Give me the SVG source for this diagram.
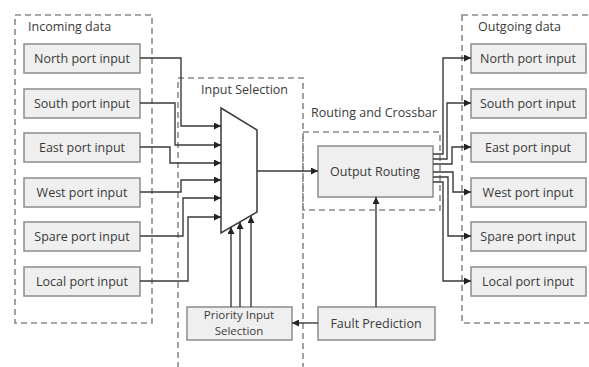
<svg xmlns="http://www.w3.org/2000/svg" width="589" height="367" viewBox="0 0 589 367">
<defs>
<style>
.grp{fill:none;stroke:#8a8a8a;stroke-width:1.6;stroke-dasharray:6 4}
.box{fill:#efefef;stroke:#8c8c8c;stroke-width:1.5}
.t{font-family:"Open Sans","Liberation Sans",sans-serif;font-size:12.5px;fill:#3a3a3a}
.s{font-size:11.5px}
.c{text-anchor:middle}
.ln{fill:none;stroke:#3a3a3a;stroke-width:1.4;marker-end:url(#ah)}
</style>
<marker id="ah" viewBox="0 0 10 10" refX="10" refY="5" markerWidth="7" markerHeight="7" markerUnits="userSpaceOnUse" orient="auto">
<path d="M0,0 L10,5 L0,10 Z" fill="#222"/>
</marker>
</defs>
<rect width="589" height="367" fill="#fff"/>
<g id="groups">
<rect class="grp" x="15" y="15" width="137" height="308"/>
<text class="t" x="28" y="31">Incoming data</text>
<rect class="grp" x="178" y="78" width="125" height="300"/>
<text class="t" x="201" y="94">Input Selection</text>
<rect class="grp" x="303" y="132" width="137" height="78"/>
<text class="t" x="311" y="117">Routing and Crossbar</text>
<rect class="grp" x="462" y="15" width="140" height="308"/>
<text class="t" x="478" y="31">Outgoing data</text>
</g>
<g id="in-north"><rect class="box" x="24" y="44" width="116" height="29"/><text class="t c" x="82" y="63">North port input</text></g>
<g id="in-south"><rect class="box" x="24" y="89" width="116" height="29"/><text class="t c" x="82" y="108">South port input</text></g>
<g id="in-east"><rect class="box" x="24" y="133" width="116" height="29"/><text class="t c" x="82" y="152">East port input</text></g>
<g id="in-west"><rect class="box" x="24" y="178" width="116" height="29"/><text class="t c" x="82" y="197">West port input</text></g>
<g id="in-spare"><rect class="box" x="24" y="222" width="116" height="29"/><text class="t c" x="82" y="241">Spare port input</text></g>
<g id="in-local"><rect class="box" x="24" y="267" width="116" height="29"/><text class="t c" x="82" y="286">Local port input</text></g>
<g id="mux"><polygon points="221,108 257,130 257,212 221,233" fill="#fff" stroke="#3a3a3a" stroke-width="1.5"/></g>
<g id="output-routing"><rect class="box" x="318" y="146" width="115" height="51"/><text class="t c" x="375" y="176">Output Routing</text></g>
<g id="priority"><rect class="box" x="187" y="307" width="105" height="33"/><text class="t s c" x="239" y="319">Priority Input</text><text class="t s c" x="239" y="335">Selection</text></g>
<g id="fault"><rect class="box" x="318" y="307" width="117" height="33"/><text class="t c" x="376" y="328">Fault Prediction</text></g>
<g id="out-north"><rect class="box" x="471" y="44" width="115" height="29"/><text class="t c" x="528" y="63">North port input</text></g>
<g id="out-south"><rect class="box" x="471" y="89" width="115" height="29"/><text class="t c" x="528" y="108">South port input</text></g>
<g id="out-east"><rect class="box" x="471" y="133" width="115" height="29"/><text class="t c" x="528" y="152">East port input</text></g>
<g id="out-west"><rect class="box" x="471" y="178" width="115" height="29"/><text class="t c" x="528" y="197">West port input</text></g>
<g id="out-spare"><rect class="box" x="471" y="222" width="115" height="29"/><text class="t c" x="528" y="241">Spare port input</text></g>
<g id="out-local"><rect class="box" x="471" y="267" width="115" height="29"/><text class="t c" x="528" y="286">Local port input</text></g>
<g id="connectors">
<polyline class="ln" points="140,58 181,58 181,126 221,126"/>
<polyline class="ln" points="140,103 175,103 175,145 221,145"/>
<polyline class="ln" points="140,147 170,147 170,163 221,163"/>
<polyline class="ln" points="140,192 181,192 181,180 221,180"/>
<polyline class="ln" points="140,236 183,236 183,198 221,198"/>
<polyline class="ln" points="140,281 188,281 188,217 221,217"/>
<polyline class="ln" points="231,307 231,227"/>
<polyline class="ln" points="240,307 240,222"/>
<polyline class="ln" points="251,307 251,216"/>
<polyline class="ln" points="257,171 318,171"/>
<polyline class="ln" points="376,307 376,197"/>
<polyline class="ln" points="318,323 292,323"/>
<polyline class="ln" points="433,154 443,154 443,58 471,58"/>
<polyline class="ln" points="433,159 447,159 447,103 471,103"/>
<polyline class="ln" points="433,164 452,164 452,147 471,147"/>
<polyline class="ln" points="433,172 453,172 453,192 471,192"/>
<polyline class="ln" points="433,177 448,177 448,236 471,236"/>
<polyline class="ln" points="433,182 443,182 443,281 471,281"/>
</g>
</svg>
